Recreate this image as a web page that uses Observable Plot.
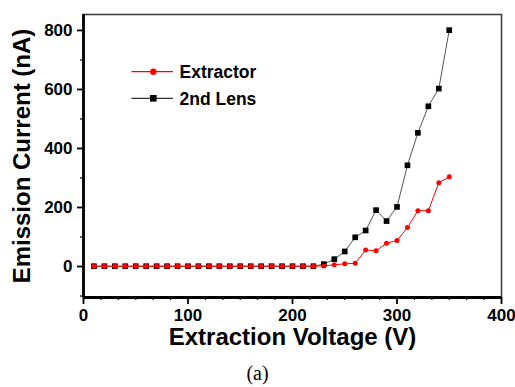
<!DOCTYPE html>
<html><head><meta charset="utf-8">
<script src="https://cdn.jsdelivr.net/npm/d3@7"></script>
<script src="https://cdn.jsdelivr.net/npm/@observablehq/plot@0.6"></script>
<style>
body{margin:0;background:#fff;}
#wrap{position:relative;width:515px;height:387px;}
#cap{position:absolute;left:0;top:363px;width:515px;text-align:center;font-family:"Liberation Serif","Times New Roman",serif;font-size:20px;line-height:20px;color:#000;}
</style></head><body>
<div id="wrap"><div id="chart"></div><div id="cap">(a)</div></div>
<script>
const voltage = [10,20,30,40,50,60,70,80,90,100,110,120,130,140,150,160,170,180,190,200,210,220,230,240,250,260,270,280,290,300,310,320,330,340,350];
const extractor = [1,1,1,1,1,1,1,1,1,1,1,1,1,1,1,1,1,1,1,1,1,1,2,6,9,11,56,53,79,88,132,189,189,284,304];
const lens2 = [1,1,1,1,1,1,1,1,1,1,1,1,1,1,1,1,1,1,1,1,1,1,8,25,51,99,122,191,154,202,343,453,543,603,801];
const seriesNames = ["Extractor", "2nd Lens"];
const xTicks = [0,100,200,300,400];
const yTicks = [0,200,400,600,800];
const yMinorTicks = [-100,100,300,500,700];
const xMinorTicks = d3.range(0, 400.001, 100/6).filter(v => Math.abs(v/100 - Math.round(v/100)) > 1e-6);
const xLabel = "Extraction Voltage (V)";
const yLabel = "Emission Current (nA)";
const xDomain = [0, 400];
const yDomain = [-105, 854];

const extRows = voltage.map((v,i) => ({v, c: extractor[i]}));
const lensRows = voltage.map((v,i) => ({v, c: lens2[i]}));

const chart = Plot.plot({
  width: 515,
  height: 350,
  marginLeft: 83,
  marginRight: 14,
  marginTop: 14,
  marginBottom: 53,
  style: {fontFamily: "'Liberation Sans', Arial, sans-serif", fontSize: "17px", fontWeight: "bold", color: "#000", background: "#fff"},
  x: {domain: xDomain},
  y: {domain: yDomain},
  marks: [
    Plot.frame({stroke: "#444", strokeWidth: 1.6}),
    Plot.axisX(xMinorTicks, {tickSize: 3, tickFormat: () => "", strokeWidth: 1.2, label: null}),
    Plot.axisX(xTicks, {tickSize: 7, tickPadding: 4, strokeWidth: 1.8, label: null, fontSize: 17}),
    Plot.axisY(yMinorTicks, {tickSize: 3, tickFormat: () => "", strokeWidth: 1.2, label: null}),
    Plot.axisY(yTicks, {tickSize: 6, tickPadding: 5, strokeWidth: 1.8, label: null, fontSize: 17}),
    Plot.ruleX([xDomain[0]], {stroke: "#000", strokeWidth: 2.8}),
    Plot.ruleY([yDomain[0]], {stroke: "#000", strokeWidth: 2.8}),
    Plot.line(lensRows, {x: "v", y: "c", stroke: "#555", strokeWidth: 1}),
    Plot.dot(lensRows, {x: "v", y: "c", symbol: "square", r: 3.2, fill: "#000", stroke: "none"}),
    Plot.line(extRows, {x: "v", y: "c", stroke: "#f00", strokeWidth: 1}),
    Plot.dot(extRows, {x: "v", y: "c", r: 2.5, fill: "#f00", stroke: "none"}),
    Plot.text([xLabel], {text: d => d, frameAnchor: "bottom", lineAnchor: "middle", textAnchor: "middle", dy: 40, fontSize: 24, fontWeight: "bold"}),
    Plot.text([yLabel], {text: d => d, frameAnchor: "left", lineAnchor: "middle", textAnchor: "middle", rotate: -90, dx: -61, fontSize: 24, fontWeight: "bold"})
  ]
});
document.getElementById("chart").appendChild(chart);

// Legend inside the plot
const svg = d3.select(chart);
const lg = svg.append("g").attr("font-family", "'Liberation Sans', Arial, sans-serif").attr("font-size", 17.5).attr("font-weight", "bold").attr("text-anchor", "start");
const legendItems = [
  {name: seriesNames[0], color: "#f00", line: "#f00", sym: "circle"},
  {name: seriesNames[1], color: "#000", line: "#333", sym: "square"}
];
legendItems.forEach((it, i) => {
  const y = 71.7 + i * 26.6;
  lg.append("line").attr("x1", 131.5).attr("x2", 173).attr("y1", y).attr("y2", y).attr("stroke", it.line).attr("stroke-width", 1.2);
  if (it.sym === "circle") lg.append("circle").attr("cx", 153.3).attr("cy", y).attr("r", 3.2).attr("fill", it.color);
  else lg.append("rect").attr("x", 150).attr("y", y - 3.3).attr("width", 6.6).attr("height", 6.6).attr("fill", it.color);
  lg.append("text").attr("x", 179.5).attr("y", y + 6.3).attr("text-anchor", "start").attr("fill", "#000").text(it.name);
});
</script>
</body></html>
